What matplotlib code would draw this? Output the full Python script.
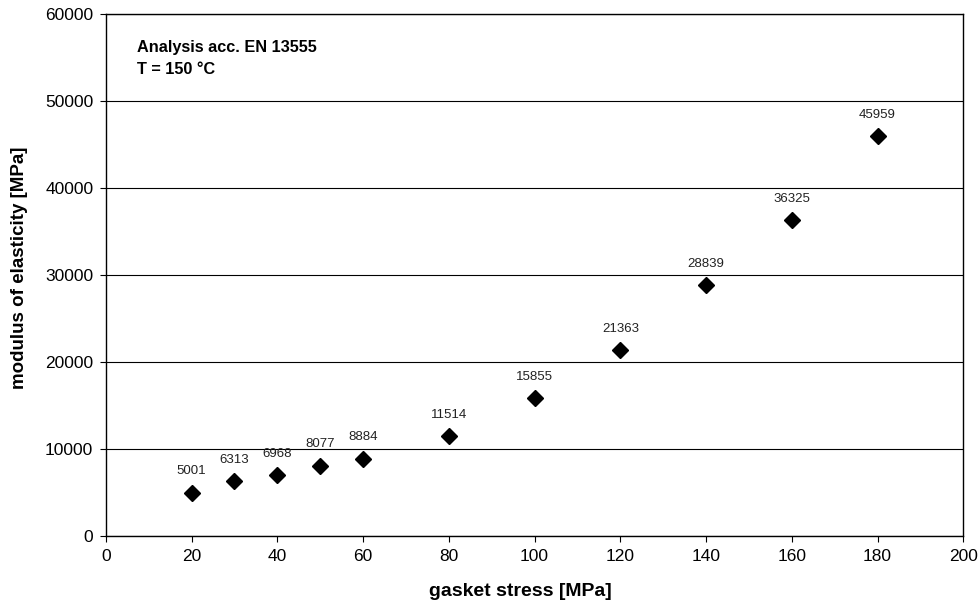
import matplotlib.pyplot as plt

plt.rcParams['font.family'] = ['Liberation Sans', 'DejaVu Sans']

# gasket stress [MPa] and modulus of elasticity [MPa]
stress = [20, 30, 40, 50, 60, 80, 100, 120, 140, 160, 180]
modulus = [5001, 6313, 6968, 8077, 8884, 11514, 15855, 21363, 28839, 36325, 45959]

fig = plt.figure(figsize=(9.8, 6.05), dpi=100)
ax = fig.add_axes([0.108, 0.114, 0.875, 0.863])

ax.set_axisbelow(True)
ax.grid(axis='y', color='black', linewidth=0.8)
ax.plot(stress, modulus, linestyle='none', marker='D', markersize=8.5,
        color='black', zorder=3)

for x, y in zip(stress, modulus):
    ax.annotate(str(y), (x, y), xytext=(0, 11), textcoords='offset points',
                ha='center', va='bottom', fontsize=9.5, color='#222222')

ax.set_xlim(0, 200)
ax.set_ylim(0, 60000)
ax.set_xticks(range(0, 201, 20))
ax.set_yticks(range(0, 60001, 10000))
ax.tick_params(direction='out', length=4, width=0.8, labelsize=12.5, pad=5)

for s in ax.spines.values():
    s.set_linewidth(1.0)

ax.set_xlabel('gasket stress [MPa]', fontsize=14, fontweight='bold',
              labelpad=14, x=0.484)
ax.set_ylabel('modulus of elasticity [MPa]', fontsize=13.5, fontweight='bold',
              labelpad=12, y=0.513)

ax.text(0.036, 0.95, 'Analysis acc. EN 13555\nT = 150 °C', transform=ax.transAxes,
        ha='left', va='top', fontsize=11.7, fontweight='bold', linespacing=1.55)

fig.savefig('out.png', dpi=100)
